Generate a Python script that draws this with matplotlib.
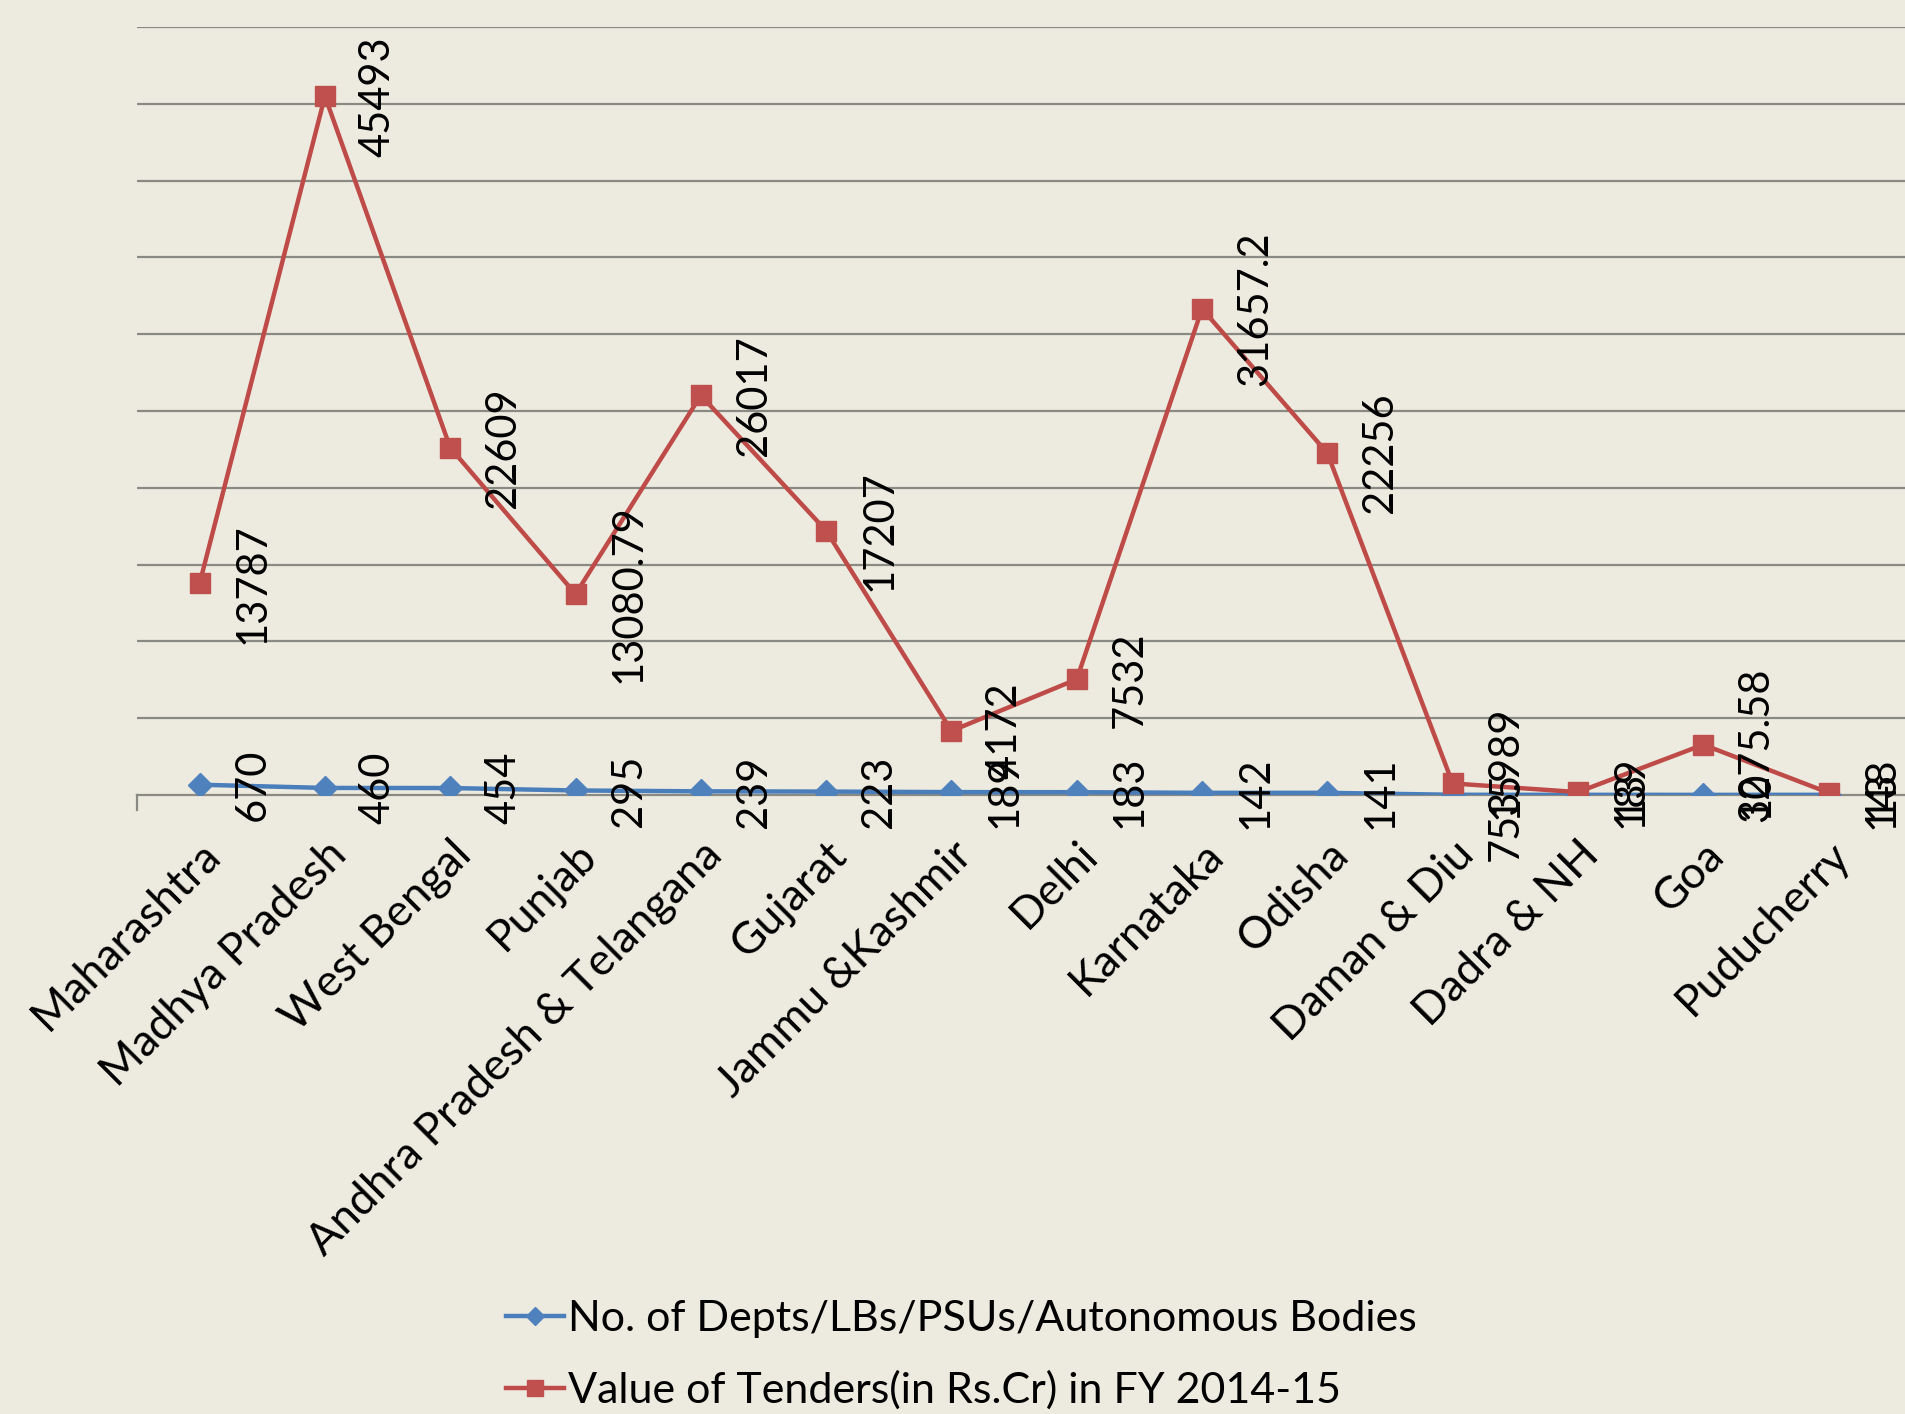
import matplotlib.pyplot as plt

# data
states = ["Maharashtra", "Madhya Pradesh", "West Bengal", "Punjab",
          "Andhra Pradesh & Telangana", "Gujarat", "Jammu &Kashmir", "Delhi",
          "Karnataka", "Odisha", "Daman & Diu", "Dadra & NH", "Goa", "Puducherry"]
depts = [670, 460, 454, 295, 239, 223, 189, 183, 142, 141, 15, 13, 10, 13]
tenders = [13787, 45493, 22609, 13080.79, 26017, 17207, 4172, 7532,
           31657.2, 22256, 753.989, 189, 3275.58, 148]

BG = "#EDEBE0"
FONT = "Lato"

fig = plt.figure(figsize=(19.05, 14.14), dpi=100, facecolor=BG)
ax = fig.add_axes([137 / 1905, 1 - 795 / 1414, 1 - 137 / 1905, (795 - 27) / 1414])
ax.set_facecolor(BG)

x = list(range(len(states)))

ax.plot(x, depts, color="#4A7EBB", lw=3.2, marker="D", ms=12,
        mfc="#4F81BD", mec="#4F81BD", zorder=3,
        label="No. of Depts/LBs/PSUs/Autonomous Bodies")
ax.plot(x, tenders, color="#BE4B48", lw=3.2, marker="s", ms=14,
        mfc="#C0504D", mec="#C0504D", zorder=4,
        label="Value of Tenders(in Rs.Cr) in FY 2014-15")

# data labels, rotated, to the right of each point
for xi, v in zip(x, depts):
    ax.annotate(f"{v:.10g}", (xi, v), xytext=(53, 0), textcoords="offset pixels",
                rotation=90, ha="center", va="center", fontsize=30,
                family=FONT, zorder=6)
for xi, v in zip(x, tenders):
    ax.annotate(f"{v:.10g}", (xi, v), xytext=(53, 0), textcoords="offset pixels",
                rotation=90, ha="center", va="center", fontsize=30,
                family=FONT, zorder=6)

ax.set_xlim(-0.5, 13.61)
ax.set_ylim(0, 50000)
ax.set_yticks(range(5000, 50001, 5000))
ax.yaxis.grid(True, color="#8A8A84", lw=1.6)
ax.tick_params(axis="y", left=False, labelleft=False)
ax.set_axisbelow(True)

for s in ["top", "right", "left"]:
    ax.spines[s].set_visible(False)
ax.spines["bottom"].set_color("#8A8A84")
ax.spines["bottom"].set_linewidth(1.6)
ax.axvline(-0.5, ymin=-0.02, ymax=0, color="#8A8A84", lw=1.6, clip_on=False)

ax.set_xticks(x)
ax.set_xticklabels(states, rotation=45, ha="right", va="top",
                   rotation_mode="anchor", fontsize=32, family=FONT)
ax.tick_params(axis="x", length=0, pad=28)

leg = fig.legend(loc="upper left", bbox_to_anchor=(506 / 1905, 1 - 1300 / 1414),
                 frameon=False, prop={"family": FONT, "size": 31},
                 handlelength=1.35, handletextpad=0.1, labelspacing=0.76,
                 borderpad=0, borderaxespad=0, markerscale=0.8)

fig.savefig("out.png", dpi=100, facecolor=BG)
